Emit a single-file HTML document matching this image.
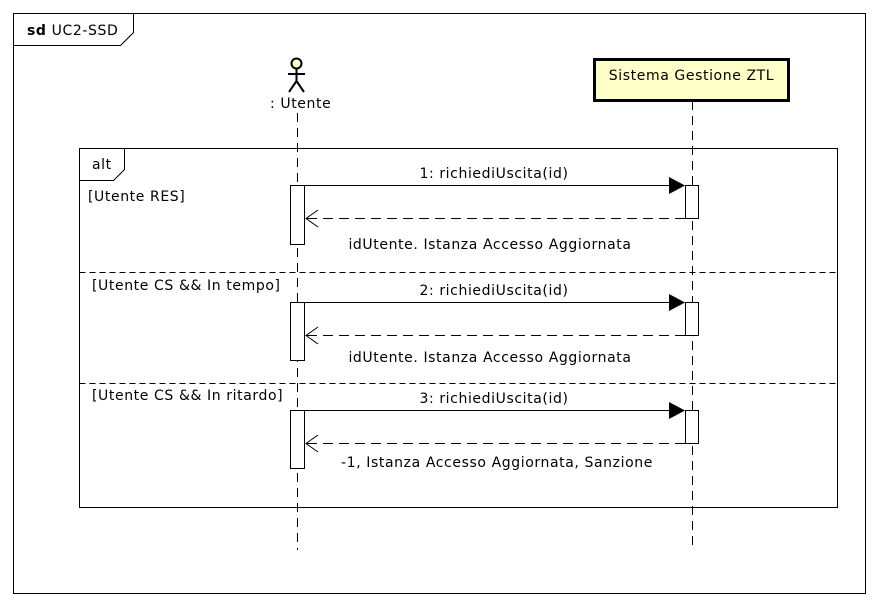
<!DOCTYPE html>
<html><head><meta charset="utf-8"><style>
html,body{margin:0;padding:0;background:#fff;}
svg{display:block;}
text{font-family:"DejaVu Sans","Liberation Sans",sans-serif;font-size:14px;letter-spacing:0.6px;fill:#000;}
</style></head><body>
<svg width="878" height="605" viewBox="0 0 878 605" xmlns="http://www.w3.org/2000/svg">
<rect x="13.5" y="13.5" width="852" height="580" fill="#fff" stroke="#000"/>
<path d="M13.5 45.5 H120.5 L133.5 32.5 V13.5" fill="none" stroke="#000"/>
<text x="27" y="35"><tspan font-weight="bold">sd</tspan> UC2-SSD</text>

<circle cx="296.5" cy="63.5" r="5" fill="#ffffc8" stroke="#000" stroke-width="2"/>
<line x1="296.5" y1="69" x2="296.5" y2="82" stroke="#000" stroke-width="2"/>
<line x1="288" y1="74" x2="305" y2="74" stroke="#000" stroke-width="2"/>
<line x1="296.5" y1="81" x2="289" y2="92" stroke="#000" stroke-width="2"/>
<line x1="296.5" y1="81" x2="304" y2="92" stroke="#000" stroke-width="2"/>
<text x="270" y="108">: Utente</text>

<rect x="594.5" y="59.5" width="194" height="41" fill="#ffffc8" stroke="#000" stroke-width="3"/>
<text x="691.5" y="80" text-anchor="middle">Sistema Gestione ZTL</text>

<line x1="297.5" y1="113" x2="297.5" y2="550" stroke="#000" stroke-dasharray="9,6"/>
<line x1="692.5" y1="101" x2="692.5" y2="550" stroke="#000" stroke-dasharray="9,6"/>

<rect x="79.5" y="148.5" width="758" height="359" fill="none" stroke="#000"/>
<path d="M79.5 180.5 H113.5 L124.5 169.5 V148.5" fill="none" stroke="#000"/>
<text x="92" y="169">alt</text>
<line x1="79.5" y1="272.5" x2="837.5" y2="272.5" stroke="#000" stroke-dasharray="6,4"/>
<line x1="79.5" y1="383.5" x2="837.5" y2="383.5" stroke="#000" stroke-dasharray="6,4"/>
<text x="88" y="201">[Utente RES]</text>
<text x="92" y="290">[Utente CS &amp;&amp; In tempo]</text>
<text x="92" y="400">[Utente CS &amp;&amp; In ritardo]</text>

<rect x="290.5" y="185.5" width="14" height="59" fill="#fff" stroke="#000"/>
<rect x="685.5" y="185.5" width="13" height="33" fill="#fff" stroke="#000"/>
<rect x="290.5" y="302.5" width="14" height="58" fill="#fff" stroke="#000"/>
<rect x="685.5" y="302.5" width="13" height="33" fill="#fff" stroke="#000"/>
<rect x="290.5" y="410.5" width="14" height="58" fill="#fff" stroke="#000"/>
<rect x="685.5" y="410.5" width="13" height="33" fill="#fff" stroke="#000"/>

<g stroke="#000" fill="none">
<line x1="304.5" y1="185.5" x2="670" y2="185.5"/>
<line x1="685" y1="218.5" x2="306" y2="218.5" stroke-dasharray="10,6"/>
<path d="M318 210 L306 218.5 L318 227"/>
<line x1="304.5" y1="302.5" x2="670" y2="302.5"/>
<line x1="685" y1="335.5" x2="306" y2="335.5" stroke-dasharray="10,6"/>
<path d="M318 327 L306 335.5 L318 344"/>
<line x1="304.5" y1="410.5" x2="670" y2="410.5"/>
<line x1="685" y1="443.5" x2="306" y2="443.5" stroke-dasharray="10,6"/>
<path d="M318 435 L306 443.5 L318 452"/>
</g>
<polygon points="669,177 685,185.5 669,194" fill="#000"/>
<polygon points="669,294 685,302.5 669,311" fill="#000"/>
<polygon points="669,402 685,410.5 669,419" fill="#000"/>

<text x="494" y="178" text-anchor="middle">1: richiediUscita(id)</text>
<text x="494" y="295" text-anchor="middle">2: richiediUscita(id)</text>
<text x="494" y="403" text-anchor="middle">3: richiediUscita(id)</text>
<text x="490" y="249" text-anchor="middle">idUtente. Istanza Accesso Aggiornata</text>
<text x="490" y="362" text-anchor="middle">idUtente. Istanza Accesso Aggiornata</text>
<text x="497" y="467" text-anchor="middle">-1, Istanza Accesso Aggiornata, Sanzione</text>
</svg>
</body></html>
